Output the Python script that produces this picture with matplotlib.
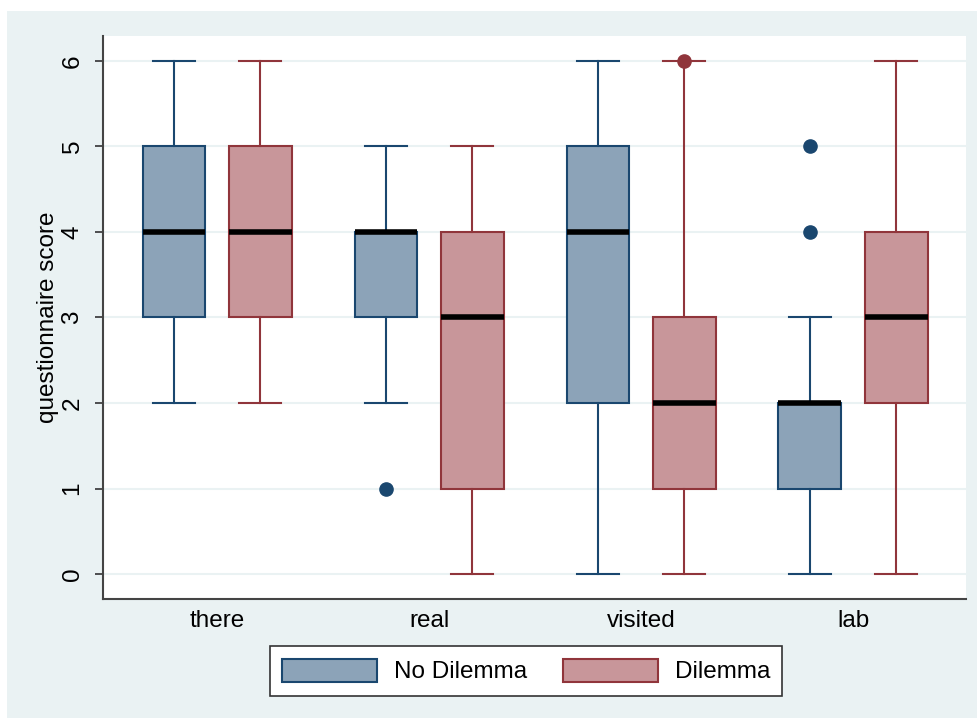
import matplotlib
matplotlib.use('Agg')
import matplotlib.pyplot as plt
from matplotlib.patches import Rectangle, Patch

plt.rcParams['font.family'] = ['Liberation Sans', 'DejaVu Sans']

# categories and box statistics
categories = ['there', 'real', 'visited', 'lab']
groups = ['No Dilemma', 'Dilemma']

# No Dilemma
nd_low = [2, 2, 0, 0]
nd_q1 = [3, 3, 2, 1]
nd_med = [4, 4, 4, 2]
nd_q3 = [5, 4, 5, 2]
nd_high = [6, 5, 6, 3]
nd_out = [[], [1], [], [4, 5]]

# Dilemma
d_low = [2, 0, 0, 0]
d_q1 = [3, 1, 1, 2]
d_med = [4, 3, 2, 3]
d_q3 = [5, 4, 3, 4]
d_high = [6, 5, 6, 6]
d_out = [[], [], [6], []]

blue_fill, blue_edge = '#8ca3b8', '#1a476f'
red_fill, red_edge = '#c8969a', '#90353b'
bg = '#eaf2f3'
fs = 17.5


def make_stats(low, q1, med, q3, high, out):
    return [dict(whislo=a, q1=b, med=c, q3=d, whishi=e, fliers=f)
            for a, b, c, d, e, f in zip(low, q1, med, q3, high, out)]


fig = plt.figure(figsize=(9.78, 7.18), dpi=100, facecolor='white')
fig.patches.append(Rectangle((7 / 978, 0), 1, 1 - 11 / 718, transform=fig.transFigure,
                             facecolor=bg, edgecolor='none', zorder=-10))
ax = fig.add_axes([103 / 978, 1 - 599 / 718, (966 - 103) / 978, (599 - 36) / 718])

pos = list(range(1, len(categories) + 1))
offset = 0.203
width = 0.297

for stats, fill, edge, sh in [
        (make_stats(nd_low, nd_q1, nd_med, nd_q3, nd_high, nd_out), blue_fill, blue_edge, -offset),
        (make_stats(d_low, d_q1, d_med, d_q3, d_high, d_out), red_fill, red_edge, offset)]:
    ax.bxp(stats, positions=[p + sh for p in pos], widths=width, capwidths=0.2,
           patch_artist=True, showfliers=True,
           boxprops=dict(facecolor=fill, edgecolor=edge, linewidth=1.5),
           whiskerprops=dict(color=edge, linewidth=1.5),
           capprops=dict(color=edge, linewidth=1.5),
           medianprops=dict(color='black', linewidth=4, solid_capstyle='butt'),
           flierprops=dict(marker='o', markerfacecolor=edge, markeredgecolor=edge,
                           markersize=9.5))

ax.set_xlim(0.462, 4.533)
ax.set_ylim(-0.29, 6.29)
ax.set_xticks(pos)
ax.set_xticklabels(categories, fontsize=fs)
ax.tick_params(axis='x', length=0, pad=8)
ax.set_yticks(range(0, 7))
ax.tick_params(axis='y', length=6, width=1.2, color='#333333', pad=8, labelsize=fs)
for lab in ax.get_yticklabels():
    lab.set_rotation(90)
    lab.set_va('center')
ax.set_ylabel('questionnaire score', fontsize=fs, labelpad=2)

ax.grid(axis='y', color=bg, linewidth=1.5, zorder=0)
ax.set_axisbelow(True)
for s in ['top', 'right']:
    ax.spines[s].set_visible(False)
for s in ['left', 'bottom']:
    ax.spines[s].set_color('#444444')
    ax.spines[s].set_linewidth(1.5)

handles = [Patch(facecolor=blue_fill, edgecolor=blue_edge, linewidth=1.5),
           Patch(facecolor=red_fill, edgecolor=red_edge, linewidth=1.5)]
leg = fig.legend(handles, groups, loc='center', bbox_to_anchor=(526 / 978, 1 - 671 / 718),
                 ncol=2, fontsize=fs, frameon=True, fancybox=False, framealpha=1,
                 handlelength=3.9, handleheight=1.1, columnspacing=1.5,
                 handletextpad=0.7, borderpad=0.5)
leg.get_frame().set_edgecolor('#333333')
leg.get_frame().set_facecolor('white')
leg.get_frame().set_linewidth(1.2)

fig.savefig('out.png', dpi=100, facecolor=fig.get_facecolor())
